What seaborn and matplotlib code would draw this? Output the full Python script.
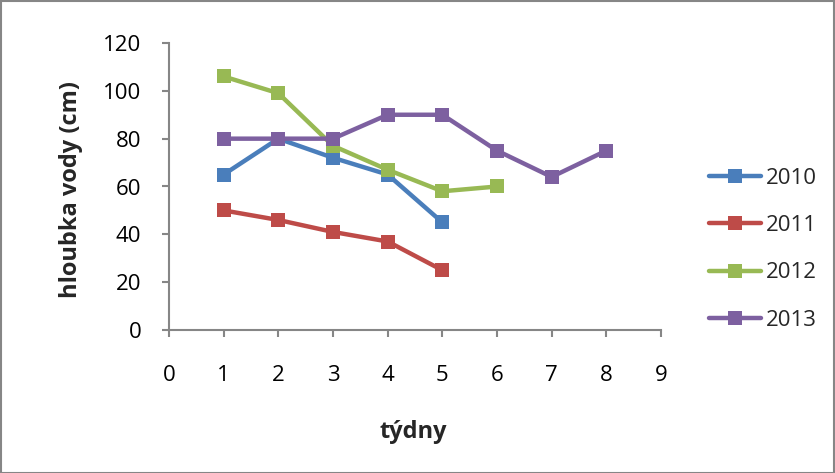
import matplotlib
matplotlib.use("Agg")
import matplotlib.pyplot as plt
import seaborn as sns
import pandas as pd
from matplotlib.patches import Rectangle

# Water depth per week for each season
weeks_2010 = [1, 2, 3, 4, 5]
depth_2010 = [65, 80, 72, 65, 45]
weeks_2011 = [1, 2, 3, 4, 5]
depth_2011 = [50, 46, 41, 37, 25]
weeks_2012 = [1, 2, 3, 4, 5, 6]
depth_2012 = [106, 99, 77, 67, 58, 60]
weeks_2013 = [1, 2, 3, 4, 5, 6, 7, 8]
depth_2013 = [80, 80, 80, 90, 90, 75, 64, 75]

years = ["2010", "2011", "2012", "2013"]
colors = ["#4A7EBB", "#BE4B48", "#98B954", "#7D60A0"]

series = {
    "2010": (weeks_2010, depth_2010),
    "2011": (weeks_2011, depth_2011),
    "2012": (weeks_2012, depth_2012),
    "2013": (weeks_2013, depth_2013),
}
rows = []
for y in years:
    wk, dp = series[y]
    for w, d in zip(wk, dp):
        rows.append({"week": w, "depth": d, "year": y})
df = pd.DataFrame(rows)

sns.set_theme(style="white")
plt.rcParams["font.family"] = ["Open Sans", "DejaVu Sans"]

fig = plt.figure(figsize=(8.35, 4.73), dpi=100)
ax = fig.add_axes([169 / 835, 1 - 330 / 473, (661 - 169) / 835, (330 - 43) / 473])

sns.lineplot(
    data=df, x="week", y="depth", hue="year", hue_order=years,
    palette=colors, marker="s", markersize=10.5, markeredgewidth=0,
    linewidth=3.2, ax=ax, legend=False, sort=False,
)

ax.set_xlim(0, 9)
ax.set_ylim(0, 120)
ax.set_xticks(range(0, 10))
ax.set_yticks(range(0, 121, 20))
ax.tick_params(axis="both", which="both", direction="out", length=5, width=1.5,
               color="#868686", labelsize=16, labelcolor="black",
               bottom=True, left=True)
ax.tick_params(axis="y", pad=15)
ax.tick_params(axis="x", pad=20)
for side in ["top", "right"]:
    ax.spines[side].set_visible(False)
for side in ["left", "bottom"]:
    ax.spines[side].set_color("#868686")
    ax.spines[side].set_linewidth(1.5)

ax.set_xlabel("týdny", fontsize=17, fontweight="bold")
ax.set_ylabel("hloubka vody (cm)", fontsize=17, fontweight="bold")
ax.xaxis.set_label_coords(0.496, -0.315)
ax.yaxis.set_label_coords(-0.175, 0.49)

# Legend with line + square marker handles
handles = [plt.Line2D([], [], color=c, lw=3.2, marker="s", markersize=10.5,
                      markeredgewidth=0) for c in colors]
fig.legend(handles, years, loc="center left", bbox_to_anchor=(0.849, 0.473),
           frameon=False, fontsize=16, handlelength=2.35, labelspacing=1.18,
           handletextpad=0.2, borderpad=0, borderaxespad=0)

# Outer chart border
fig.patches.append(Rectangle((0.001, 0.001), 0.998, 0.997, transform=fig.transFigure,
                             fill=False, edgecolor="#868686", linewidth=1.5))

fig.savefig("out.png", dpi=100)
